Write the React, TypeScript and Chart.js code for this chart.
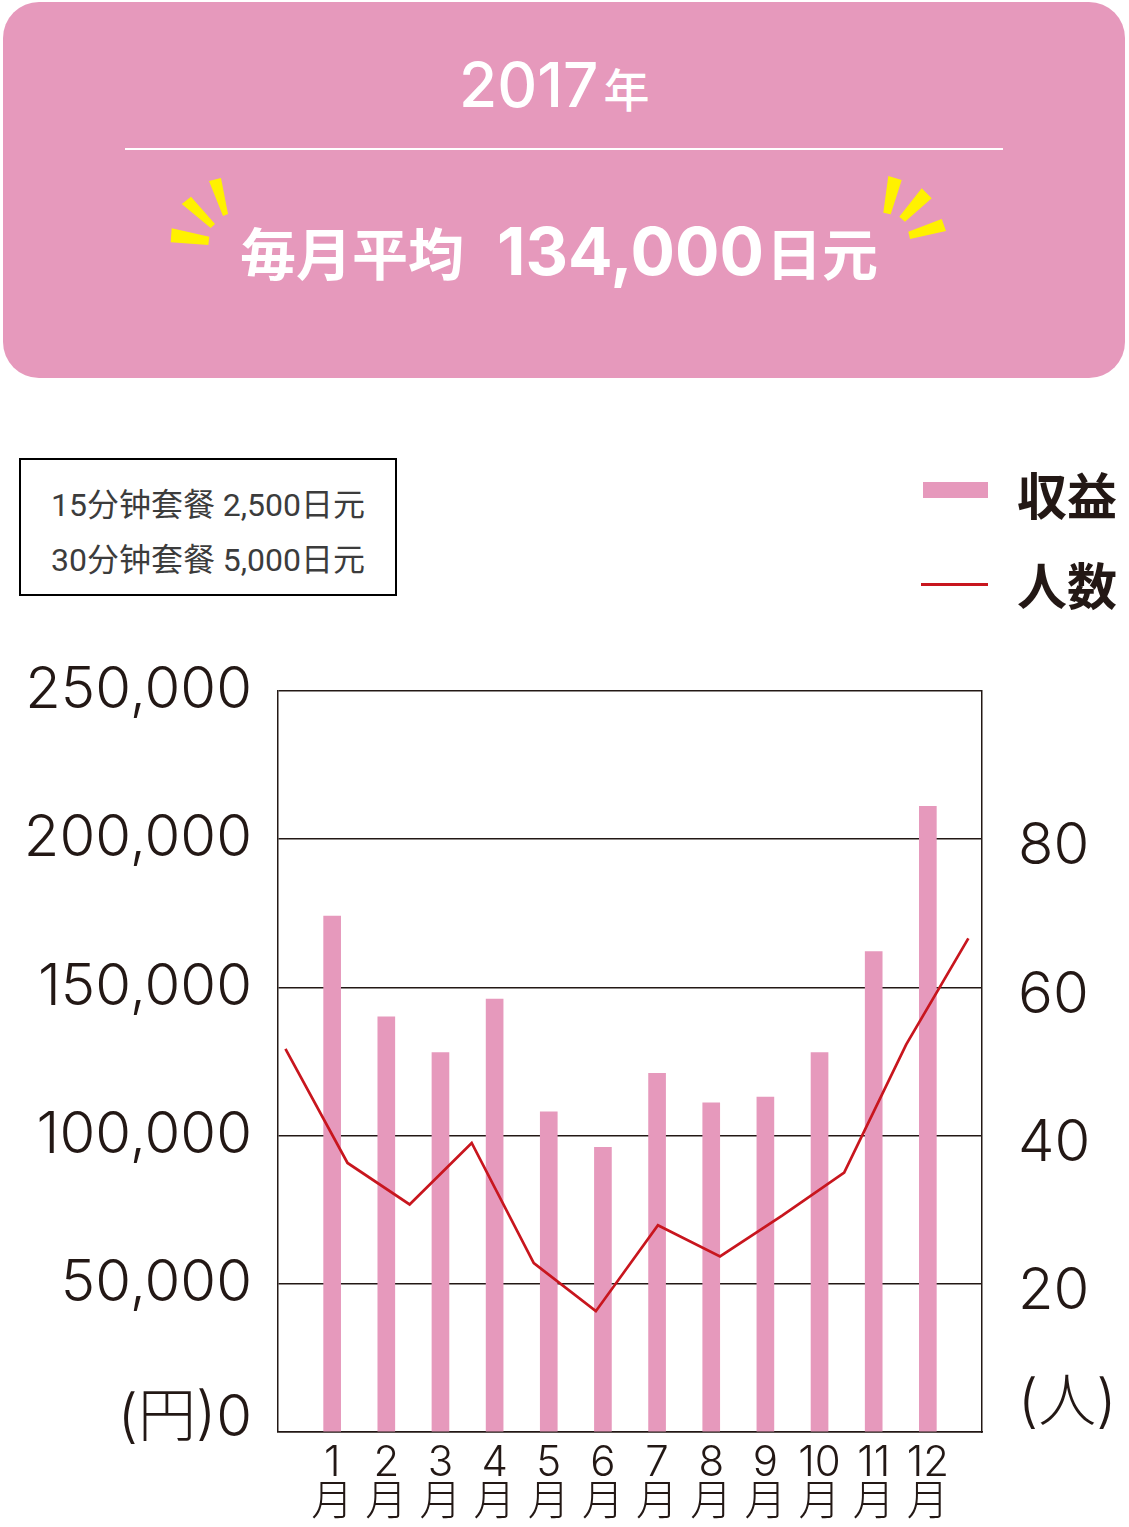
import React, { useEffect, useRef } from 'react';
import { Chart, registerables } from 'chart.js';

Chart.register(...registerables);

// ---- data ----
const monthNumbers = ['1', '2', '3', '4', '5', '6', '7', '8', '9', '10', '11', '12'];
const monthSuffix = '月';
const revenue = [174000, 140000, 128000, 146000, 108000, 96000, 121000, 111000, 113000, 128000, 162000, 211000];
const visitors = [51.7, 36.3, 30.7, 39.0, 22.8, 16.3, 27.9, 23.7, 29.2, 35.0, 52.3, 66.6];
const yenTicks = [0, 50000, 100000, 150000, 200000, 250000];
const peopleTicks = [0, 20, 40, 60, 80];
const yearText = '2017';
const yearSuffix = '年';
const avgLabel = '毎月平均';
const avgValue = '134,000';
const avgUnit = '日元';
const planLines = ['15分钟套餐 2,500日元', '30分钟套餐 5,000日元'];
const legendRevenue = '収益';
const legendVisitors = '人数';

// ---- styles ----
const PINK = '#E699BC';
const RED = '#C8161E';
const INK = '#231815';
const YELLOW = '#FFF100';
const NUM_FONT = 'Inter, "Noto Sans CJK JP", sans-serif';
const CJK_FONT = '"Noto Sans CJK JP", "Noto Sans CJK SC", sans-serif';

function ChartCanvas() {
  const ref = useRef<HTMLCanvasElement | null>(null);
  useEffect(() => {
    if (!ref.current) return;
    const chart = new Chart(ref.current, {
      type: 'bar',
      data: {
        datasets: [
          {
            type: 'line',
            label: legendVisitors,
            data: visitors.map((v, i) => ({ x: i, y: v })),
            xAxisID: 'x2',
            yAxisID: 'y2',
            borderColor: RED,
            borderWidth: 2.7,
            pointRadius: 0,
            tension: 0,
            fill: false,
            order: 0,
          } as any,
          {
            type: 'bar',
            label: legendRevenue,
            data: revenue.map((v, i) => ({ x: i, y: v })),
            xAxisID: 'x',
            yAxisID: 'y',
            backgroundColor: PINK,
            grouped: false,
            barThickness: 17,
            maxBarThickness: 17,
            order: 1,
          } as any,
        ],
      },
      options: {
        animation: false,
        responsive: true,
        maintainAspectRatio: false,
        layout: { padding: { top: 70, left: 0, right: 0, bottom: 0 } },
        plugins: { legend: { display: false }, tooltip: { enabled: false } },
        scales: {
          x: {
            type: 'linear',
            position: 'bottom',
            offset: false,
            min: -1,
            max: 12,
            grid: { display: false, drawTicks: false, offset: false },
            border: { display: true, color: INK, width: 1.5 },
            ticks: {
              autoSkip: false,
              maxRotation: 0,
              minRotation: 0,
              padding: 12,
              color: INK,
              font: { family: NUM_FONT, size: 42, weight: '300', lineHeight: '39px' } as any,
              callback: (v: any) => {
                const i = Math.round(Number(v));
                return [monthNumbers[i], monthSuffix];
              },
            },
            afterBuildTicks: (axis: any) => {
              axis.ticks = monthNumbers.map((_, i) => ({ value: i }));
            },
            afterFit: (s: any) => {
              s.height = 95;
            },
          } as any,
          x2: {
            type: 'linear',
            display: false,
            offset: false,
            min: -0.12,
            max: 11.22,
          } as any,
          y: {
            type: 'linear',
            position: 'left',
            min: 0,
            max: 250000,
            grid: { color: INK, lineWidth: 1.5, drawTicks: false },
            border: { display: true, color: INK, width: 1.5 },
            ticks: {
              padding: 26,
              color: INK,
              font: ((ctx: any) => ({
                family: NUM_FONT,
                size: 58,
                weight: '300',
                lineHeight: ctx && ctx.tick && ctx.tick.value === 0 ? '26px' : 1.2,
              })) as any,
              callback: (v: any) =>
                Number(v) === 0 ? ['(円)0', ''] : Number(v).toLocaleString('en-US'),
            },
            afterBuildTicks: (axis: any) => {
              axis.ticks = yenTicks.map((value) => ({ value }));
            },
            afterFit: (s: any) => {
              s.width = 278;
            },
          } as any,
          y2: {
            type: 'linear',
            position: 'right',
            min: 0,
            max: 100,
            grid: { display: false, drawTicks: false },
            border: { display: true, color: INK, width: 1.5 },
            ticks: {
              padding: 36,
              labelOffset: 8,
              color: INK,
              font: ((ctx: any) => ({
                family: NUM_FONT,
                size: 58,
                weight: '300',
                lineHeight: ctx && ctx.tick && ctx.tick.value === 0 ? '36px' : 1.2,
              })) as any,
              callback: (v: any) => (Number(v) === 0 ? ['(人)', '', ''] : String(v)),
            },
            afterBuildTicks: (axis: any) => {
              axis.ticks = peopleTicks.map((value) => ({ value }));
            },
            afterFit: (s: any) => {
              s.width = 147;
            },
          } as any,
        },
      },
    });
    return () => chart.destroy();
  }, []);
  return (
    <div style={{ position: 'absolute', left: 0, top: 620, width: 1129, height: 907 }}>
      <canvas ref={ref} />
    </div>
  );
}

export default function App() {
  return (
    <div
      style={{
        position: 'absolute',
        left: 0,
        top: 0,
        width: 1129,
        height: 1527,
        background: '#ffffff',
        overflow: 'hidden',
      }}
    >
      {/* header box */}
      <div
        style={{
          position: 'absolute',
          left: 3,
          top: 2,
          width: 1122,
          height: 376,
          borderRadius: 36,
          background: PINK,
        }}
      />
      <div
        style={{
          position: 'absolute',
          left: 459,
          top: 54,
          whiteSpace: 'nowrap',
          color: '#ffffff',
          fontFamily: NUM_FONT,
          fontSize: 62,
          fontWeight: 500,
          lineHeight: 1,
        }}
      >
        <span>{yearText}</span>
        <span style={{ fontFamily: CJK_FONT, fontSize: 46, fontWeight: 500, marginLeft: 5 }}>{yearSuffix}</span>
      </div>
      <div
        style={{
          position: 'absolute',
          left: 125,
          top: 148,
          width: 878,
          height: 2,
          background: '#ffffff',
        }}
      />
      <svg
        width={1129}
        height={380}
        style={{ position: 'absolute', left: 0, top: 0 }}
      >
        <polygon points="209,181 221,178 228,214 223,216" fill={YELLOW} />
        <polygon points="181.7,204 191,196.7 215,224 210.7,228" fill={YELLOW} />
        <polygon points="171.7,228.3 209.3,236.7 208.3,245 170.7,242.3" fill={YELLOW} />
        <polygon points="888.3,176 901.7,180 890.7,214.3 883.3,212.7" fill={YELLOW} />
        <polygon points="921.7,188.3 931.7,198.3 905,221.7 899.3,216.7" fill={YELLOW} />
        <polygon points="941.7,219 946,231 910,239 908.3,231.7" fill={YELLOW} />
      </svg>
      <div
        style={{
          position: 'absolute',
          left: 240,
          top: 218,
          whiteSpace: 'nowrap',
          color: '#ffffff',
          fontFamily: CJK_FONT,
          fontSize: 56,
          fontWeight: 700,
          lineHeight: 1,
        }}
      >
        <span>{avgLabel}</span>
        <span style={{ fontFamily: NUM_FONT, fontSize: 66, fontWeight: 700, marginLeft: 33 }}>{avgValue}</span>
        <span style={{ marginLeft: 2 }}>{avgUnit}</span>
      </div>

      {/* plan note box */}
      <div
        style={{
          position: 'absolute',
          left: 19,
          top: 458,
          width: 378,
          height: 138,
          boxSizing: 'border-box',
          border: '2px solid #000000',
        }}
      >
        <div
          style={{
            position: 'absolute',
            left: 0,
            right: 0,
            top: 18,
            textAlign: 'center',
            whiteSpace: 'nowrap',
            color: '#3c3c3c',
            fontFamily: 'Roboto, "Noto Sans CJK SC", sans-serif',
            fontSize: 32,
            lineHeight: '55px',
          }}
        >
          {planLines.map((l) => (
            <div key={l}>{l}</div>
          ))}
        </div>
      </div>

      {/* legend */}
      <div style={{ position: 'absolute', left: 923, top: 482, width: 65, height: 16, background: PINK }} />
      <div
        style={{
          position: 'absolute',
          left: 1017,
          top: 468,
          color: INK,
          fontFamily: CJK_FONT,
          fontSize: 50,
          fontWeight: 700,
          lineHeight: 1,
          whiteSpace: 'nowrap',
        }}
      >
        {legendRevenue}
      </div>
      <div style={{ position: 'absolute', left: 921, top: 583, width: 67, height: 2.5, background: RED }} />
      <div
        style={{
          position: 'absolute',
          left: 1017,
          top: 558,
          color: INK,
          fontFamily: CJK_FONT,
          fontSize: 50,
          fontWeight: 700,
          lineHeight: 1,
          whiteSpace: 'nowrap',
        }}
      >
        {legendVisitors}
      </div>

      <ChartCanvas />
    </div>
  );
}
